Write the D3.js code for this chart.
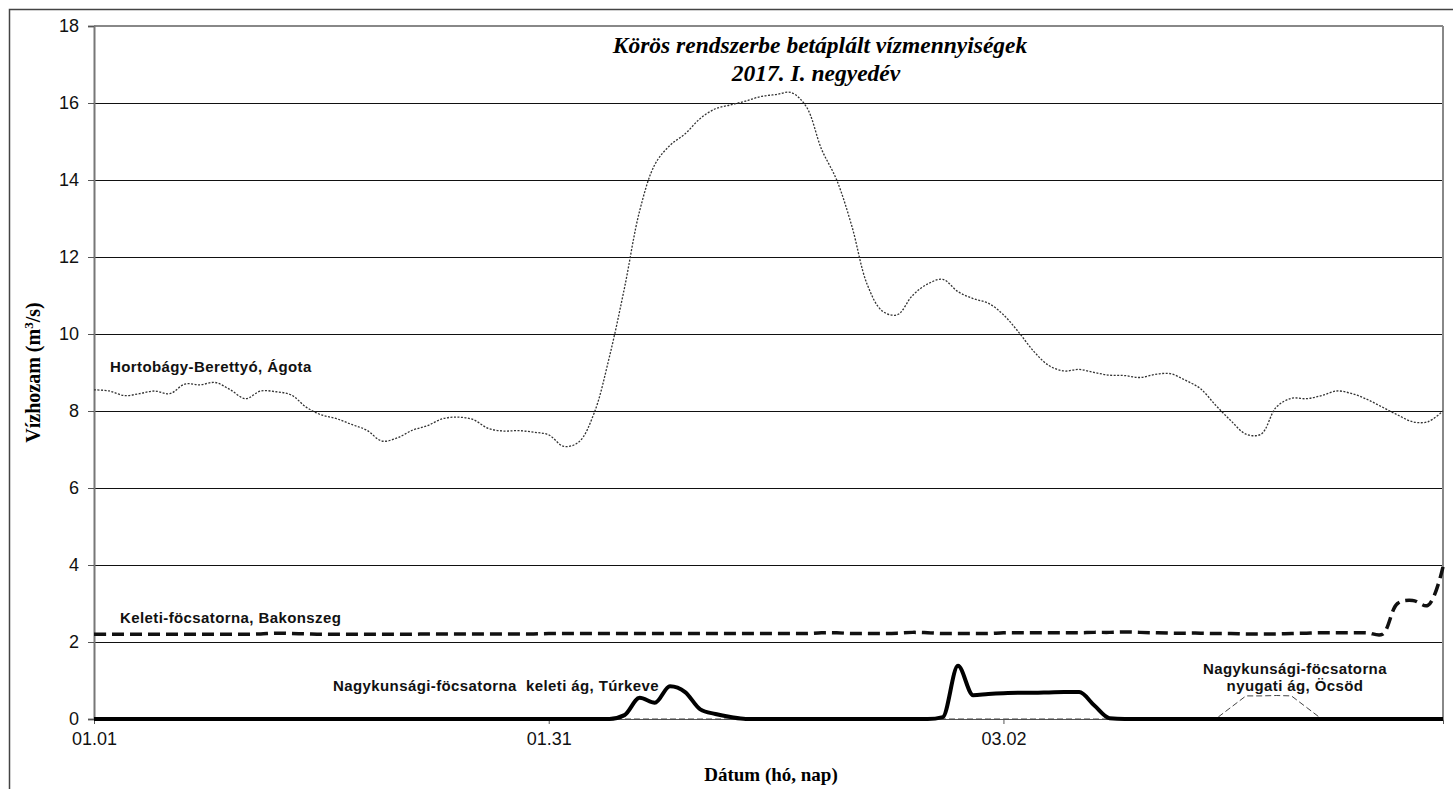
<!DOCTYPE html>
<html>
<head>
<meta charset="utf-8">
<script src="https://cdn.jsdelivr.net/npm/d3@7"></script>
<style>
  body { margin: 0; background: #fff; }
  svg { display: block; }
</style>
</head>
<body>
<div class="canvas"></div>
<script>
// Tick labels on the x axis (day index -> label)
const tickDays = [0, 30, 60];
const tickLabels = ['01.01', '01.31', '03.02'];

// Daily discharge values, 01.01 .. 03.31 (90 days)
const hortobagy = [8.55, 8.52, 8.4, 8.45, 8.52, 8.45, 8.7, 8.68, 8.74, 8.55,
  8.32, 8.52, 8.5, 8.42, 8.1, 7.9, 7.8, 7.65, 7.5, 7.22,
  7.3, 7.5, 7.62, 7.8, 7.84, 7.78, 7.55, 7.48, 7.49, 7.45,
  7.38, 7.08, 7.2, 7.95, 9.4, 11.2, 13.2, 14.4, 14.9, 15.2,
  15.6, 15.85, 15.95, 16.05, 16.17, 16.22, 16.27, 15.9, 14.8, 14.0,
  12.8, 11.3, 10.6, 10.5, 11.0, 11.3, 11.42, 11.1, 10.92, 10.8,
  10.5, 10.05, 9.55, 9.18, 9.04, 9.08, 9.0, 8.93, 8.92, 8.87,
  8.95, 8.97, 8.8, 8.58, 8.15, 7.75, 7.4, 7.4, 8.1, 8.33,
  8.32, 8.4, 8.52, 8.45, 8.3, 8.1, 7.9, 7.72, 7.72, 8.0];

const keleti = [2.2, 2.2, 2.2, 2.2, 2.2, 2.2, 2.2, 2.2, 2.2, 2.2,
  2.2, 2.21, 2.23, 2.22, 2.21, 2.2, 2.2, 2.2, 2.2, 2.2,
  2.2, 2.2, 2.21, 2.21, 2.21, 2.21, 2.21, 2.21, 2.21, 2.21,
  2.22, 2.22, 2.22, 2.22, 2.22, 2.22, 2.22, 2.22, 2.22, 2.22,
  2.22, 2.22, 2.22, 2.22, 2.22, 2.22, 2.22, 2.22, 2.24, 2.24,
  2.22, 2.22, 2.22, 2.23, 2.25, 2.24, 2.22, 2.22, 2.22, 2.22,
  2.24, 2.24, 2.24, 2.24, 2.24, 2.24, 2.25, 2.25, 2.26, 2.25,
  2.24, 2.23, 2.23, 2.23, 2.22, 2.22, 2.21, 2.21, 2.21, 2.22,
  2.23, 2.24, 2.24, 2.24, 2.24, 2.2, 3.0, 3.08, 2.95, 3.95];

const nkKeleti = [0, 0, 0, 0, 0, 0, 0, 0, 0, 0,
  0, 0, 0, 0, 0, 0, 0, 0, 0, 0,
  0, 0, 0, 0, 0, 0, 0, 0, 0, 0,
  0, 0, 0, 0, 0, 0.1, 0.55, 0.42, 0.85, 0.7,
  0.25, 0.13, 0.05, 0, 0, 0, 0, 0, 0, 0,
  0, 0, 0, 0, 0, 0, 0.05, 1.38, 0.62, 0.65,
  0.67, 0.68, 0.68, 0.69, 0.7, 0.7, 0.35, 0.02, 0, 0,
  0, 0, 0, 0, 0, 0, 0, 0, 0, 0,
  0, 0, 0, 0, 0, 0, 0, 0, 0, 0];

const nkNyugati = [0, 0, 0, 0, 0, 0, 0, 0, 0, 0,
  0, 0, 0, 0, 0, 0, 0, 0, 0, 0,
  0, 0, 0, 0, 0, 0, 0, 0, 0, 0,
  0, 0, 0, 0, 0, 0, 0, 0, 0, 0,
  0, 0, 0, 0, 0, 0, 0, 0, 0, 0,
  0, 0, 0, 0, 0, 0, 0, 0, 0, 0,
  0, 0, 0, 0, 0, 0, 0, 0, 0, 0,
  0, 0, 0, 0, 0, 0.3, 0.6, 0.6, 0.61, 0.6,
  0.3, 0, 0, 0, 0, 0, 0, 0, 0, 0];

const yTicks = [0, 2, 4, 6, 8, 10, 12, 14, 16, 18];

// Size of the picture and the plot area
const svgWidth = 1453;
const svgHeight = 789;
const plot = {left: 94, right: 1443, top: 26, bottom: 719};

const sans = "'Liberation Sans', Arial, sans-serif";
const serif = "'Liberation Serif', 'Times New Roman', serif";

const svg = d3.select('.canvas').append('svg')
  .attr('width', svgWidth)
  .attr('height', svgHeight);

// Outer frame
svg.append('rect')
  .attr('x', 9.5).attr('y', 9.5)
  .attr('width', 1460).attr('height', 800)
  .attr('fill', 'none')
  .attr('stroke', '#444')
  .attr('stroke-width', 1.5);

const xScale = d3.scaleLinear().domain([0, 89]).range([plot.left, plot.right]);
const yScale = d3.scaleLinear().domain([0, 18]).range([plot.bottom, plot.top]);

// Horizontal gridlines
svg.append('g')
  .selectAll('line')
  .data(yTicks.filter(d => d > 0 && d < 18))
  .enter().append('line')
  .attr('x1', plot.left).attr('x2', plot.right)
  .attr('y1', d => yScale(d) + 0.5).attr('y2', d => yScale(d) + 0.5)
  .attr('stroke', '#111')
  .attr('stroke-width', 1);

// Plot frame (top and right in grey)
svg.append('line')
  .attr('x1', plot.left).attr('x2', plot.right)
  .attr('y1', yScale(18)).attr('y2', yScale(18))
  .attr('stroke', '#888').attr('stroke-width', 2);
svg.append('line')
  .attr('x1', plot.right).attr('x2', plot.right)
  .attr('y1', plot.top).attr('y2', plot.bottom)
  .attr('stroke', '#888').attr('stroke-width', 2);

// Y axis
const yAxis = d3.axisLeft(yScale).tickValues(yTicks).tickSize(6).tickPadding(9);
const yg = svg.append('g')
  .attr('transform', 'translate(' + plot.left + ',0)')
  .call(yAxis);
yg.select('.domain').attr('stroke', '#777').attr('stroke-width', 2);
yg.selectAll('.tick line').attr('stroke', '#555');
yg.selectAll('text')
  .attr('font-family', sans)
  .attr('font-size', 18)
  .attr('fill', '#111');

// X axis
const xAxis = d3.axisBottom(xScale)
  .tickValues(tickDays)
  .tickFormat((d, i) => tickLabels[i])
  .tickSize(5).tickPadding(8);
const xg = svg.append('g')
  .attr('transform', 'translate(0,' + plot.bottom + ')')
  .call(xAxis);
xg.select('.domain').attr('stroke', '#555').attr('stroke-width', 1);
xg.selectAll('.tick line').attr('stroke', '#555');
xg.selectAll('text')
  .attr('font-family', sans)
  .attr('font-size', 18)
  .attr('fill', '#111');

// Lines
const line = d3.line()
  .x((d, i) => xScale(i))
  .y(d => yScale(d))
  .curve(d3.curveCatmullRom.alpha(0.5));
const lineMono = d3.line()
  .x((d, i) => xScale(i))
  .y(d => yScale(d))
  .curve(d3.curveMonotoneX);
const lineStraight = d3.line()
  .x((d, i) => xScale(i))
  .y(d => yScale(d));

svg.append('path')
  .datum(hortobagy)
  .attr('d', line)
  .attr('fill', 'none')
  .attr('stroke', '#333')
  .attr('stroke-width', 1.3)
  .attr('stroke-dasharray', '2,1.5');

svg.append('path')
  .datum(keleti)
  .attr('d', line)
  .attr('fill', 'none')
  .attr('stroke', '#111')
  .attr('stroke-width', 3.5)
  .attr('stroke-dasharray', '12,6');

svg.append('path')
  .datum(nkNyugati)
  .attr('d', lineStraight)
  .attr('fill', 'none')
  .attr('stroke', '#444')
  .attr('stroke-width', 1)
  .attr('stroke-dasharray', '6,3');

svg.append('path')
  .datum(nkKeleti)
  .attr('d', lineMono)
  .attr('fill', 'none')
  .attr('stroke', '#000')
  .attr('stroke-width', 4)
  .attr('stroke-linejoin', 'round');

// Series labels
const labels = [
  {t: 'Hortobágy-Berettyó, Ágota', x: 110, y: 372, a: 'start'},
  {t: 'Keleti-föcsatorna, Bakonszeg', x: 120, y: 623, a: 'start'},
  {t: 'Nagykunsági-föcsatorna  keleti ág, Túrkeve', x: 333, y: 691, a: 'start'},
  {t: 'Nagykunsági-föcsatorna', x: 1295, y: 674, a: 'middle'},
  {t: 'nyugati ág, Öcsöd', x: 1295, y: 691, a: 'middle'}
];
svg.append('g')
  .selectAll('text')
  .data(labels)
  .enter().append('text')
  .attr('x', d => d.x).attr('y', d => d.y)
  .attr('text-anchor', d => d.a)
  .attr('font-family', sans)
  .attr('font-weight', 'bold')
  .attr('font-size', 15)
  .attr('letter-spacing', 0.4)
  .attr('fill', '#111')
  .style('white-space', 'pre')
  .text(d => d.t);

// Chart title
svg.append('text')
  .attr('x', 820).attr('y', 53)
  .attr('text-anchor', 'middle')
  .attr('font-family', serif)
  .attr('font-weight', 'bold')
  .attr('font-style', 'italic')
  .attr('font-size', 23.5)
  .text('Körös rendszerbe betáplált vízmennyiségek');
svg.append('text')
  .attr('x', 816).attr('y', 81)
  .attr('text-anchor', 'middle')
  .attr('font-family', serif)
  .attr('font-weight', 'bold')
  .attr('font-style', 'italic')
  .attr('font-size', 23.5)
  .text('2017. I. negyedév');

// Axis titles
const yTitle = svg.append('text')
  .attr('transform', 'translate(40,' + ((plot.top + plot.bottom) / 2) + ') rotate(-90)')
  .attr('text-anchor', 'middle')
  .attr('font-family', serif)
  .attr('font-weight', 'bold')
  .attr('font-size', 20);
yTitle.append('tspan').text('Vízhozam (m');
yTitle.append('tspan').attr('baseline-shift', 'super').attr('font-size', 13).text('3');
yTitle.append('tspan').text('/s)');

svg.append('text')
  .attr('x', 771).attr('y', 781)
  .attr('text-anchor', 'middle')
  .attr('font-family', serif)
  .attr('font-weight', 'bold')
  .attr('font-size', 19)
  .text('Dátum (hó, nap)');
</script>
</body>
</html>
